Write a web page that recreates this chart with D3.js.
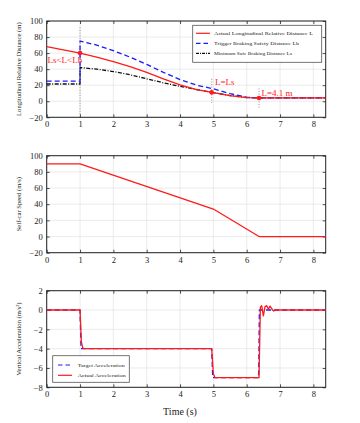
<!DOCTYPE html>
<html><head><meta charset="utf-8">
<script src="https://cdn.jsdelivr.net/npm/d3@7"></script>
<style>body{margin:0;background:#fff}svg{display:block}</style>
</head><body>
<svg id="c" width="360" height="423"></svg>
<script>
// ---------- data ----------
const xTicks = [0,1,2,3,4,5,6,7,8];
const distTicks = [-20,0,20,40,60,80,100];
const speedTicks = [-20,0,20,40,60,80,100];
const accTicks = [-8,-6,-4,-2,0,2];

const actualT = [0,1,1.5,2,2.5,3,3.5,4,4.5,4.95,5.5,6,6.37,8.37];
const actualL = [68,60,55,49.5,43,36,28,20.5,14.5,11,7,4.6,4.1,4.1];
const triggerT = [0,1,1,1.5,2,2.5,3,3.5,4,4.5,5,5.5,6,6.37,8.37];
const triggerL = [25,25,75,70,63,55,46,36,27,20,15.5,9.5,5,4.1,4.1];
const minT = [0,1,1,1.5,2,2.5,3,3.5,4,4.5,5,5.5,6,6.37,8.37];
const minL = [21.5,21.5,42,40,37,33,28,23,18.5,14.5,10.8,7,4.6,4.1,4.1];
const keyT = [1,4.95,6.37];
const keyL = [60,11,4.1];
const keyLabels = ["Ls<L<Lb","L=Ls","L=4.1 m"];
const guideTop = [92,28,16];
const guideBottom = [-20,-2,-10];

const speedT = [0,1,5,6.37,8.37];
const speedV = [90,90,34,0,0];

const targetT = [0,1,1.03,4.95,4.98,6.36,6.38,8.37];
const targetA = [0,0,-4,-4,-7,-7,0,0];
const accT = [0,1,1.04,1.08,1.12,4.95,5.0,5.05,6.37,6.41,6.45,6.5,6.55,6.6,6.65,6.7,6.75,6.8,6.9,7,8.37];
const accA = [0,0,-3.3,-3.9,-4,-4,-6.6,-7,-7,0.3,0.45,-0.6,0.35,0.45,0.1,0.4,0.15,-0.1,0,0,0];

const legend1 = ["Actual Longitudinal Relative Distance L","Trigger Braking Safety Distance Lb","Minimum Safe Braking Distance Ls"];
const legend3 = ["Target Acceleration","Actual Acceleration"];

// ---------- layout ----------
const svg = d3.select("#c");
const L = 46.7, R = 325.7;
const x = d3.scaleLinear().domain([0,8.37]).range([L,R]);
const serif = "'Liberation Serif','Times New Roman',serif";
const RED = "#ff1a1a", BLUE = "#1a1aff";

function panel(top,bottom,dom,ticks,ylabel){
  const y = d3.scaleLinear().domain(dom).range([bottom,top]);
  const g = svg.append("g");
  // grid
  g.append("g").selectAll("line").data(xTicks).join("line")
    .attr("x1",d=>x(d)).attr("x2",d=>x(d)).attr("y1",top).attr("y2",bottom)
    .attr("stroke","#e3e3e3").attr("stroke-width",0.7);
  g.append("g").selectAll("line").data(ticks).join("line")
    .attr("x1",L).attr("x2",R).attr("y1",d=>y(d)).attr("y2",d=>y(d))
    .attr("stroke","#e3e3e3").attr("stroke-width",0.7);
  // axes
  const ax = [
    {a:d3.axisBottom(x).tickValues(xTicks).tickSize(-3).tickPadding(4), t:`translate(0,${bottom})`, lab:true},
    {a:d3.axisTop(x).tickValues(xTicks).tickSize(-3), t:`translate(0,${top})`, lab:false},
    {a:d3.axisLeft(y).tickValues(ticks).tickSize(-3).tickPadding(4), t:`translate(${L},0)`, lab:true},
    {a:d3.axisRight(y).tickValues(ticks).tickSize(-3), t:`translate(${R},0)`, lab:false}
  ];
  ax.forEach(o=>{
    const ag = g.append("g").attr("transform",o.t).call(o.a);
    ag.select(".domain").remove();
    ag.selectAll("line").attr("stroke","#222").attr("stroke-width",0.8);
    ag.selectAll("text").attr("font-family",serif).attr("font-size",8.5).attr("fill","#222");
    if(!o.lab) ag.selectAll("text").remove();
  });
  g.append("rect").attr("x",L).attr("y",top).attr("width",R-L).attr("height",bottom-top)
    .attr("fill","none").attr("stroke","#222").attr("stroke-width",1);
  g.append("text").attr("transform",`translate(21,${(top+bottom)/2}) rotate(-90)`)
    .attr("text-anchor","middle").attr("font-family",serif).attr("font-size",6.6).attr("fill","#222")
    .text(ylabel);
  return y;
}

function series(y,T,V,color,dash,w){
  const line = d3.line().x((d,i)=>x(T[i])).y(d=>y(d));
  svg.append("path").attr("d",line(V)).attr("fill","none").attr("stroke",color)
    .attr("stroke-width",w).attr("stroke-dasharray",dash||null).attr("stroke-linejoin","round");
}

// Panel 1
const y1 = panel(21,117.3,[-20,100],distTicks,"Longitudinal Relative Distance (m)");
svg.append("g").selectAll("line").data(keyT).join("line")
  .attr("x1",d=>x(d)).attr("x2",d=>x(d))
  .attr("y1",(d,i)=>y1(guideTop[i])).attr("y2",(d,i)=>y1(guideBottom[i]))
  .attr("stroke","#777").attr("stroke-width",0.8).attr("stroke-dasharray","1,1.6");
series(y1,minT,minL,"#111","4,1.5,1,1.5",1.3);
series(y1,triggerT,triggerL,BLUE,"5,3",1.3);
series(y1,actualT,actualL,RED,null,1.3);
svg.append("g").selectAll("circle").data(keyT).join("circle")
  .attr("cx",d=>x(d)).attr("cy",(d,i)=>y1(keyL[i])).attr("r",2.3).attr("fill",RED);
const annX = [47.5,215,261.5], annY = [62.5,85.3,96.3];
svg.append("g").selectAll("text").data(keyLabels).join("text")
  .attr("x",(d,i)=>annX[i]).attr("y",(d,i)=>annY[i]).attr("font-family",serif)
  .attr("font-size",9).attr("fill",RED).text(d=>d);
// legend 1
svg.append("rect").attr("x",192.7).attr("y",25.3).attr("width",129).attr("height",37)
  .attr("fill","#fff").attr("stroke","#555").attr("stroke-width",0.8);
const l1c = [RED,BLUE,"#111"], l1d = [null,"4.5,3","3,1,1,1"];
legend1.forEach((t,i)=>{
  const yy = 33.3+i*10;
  svg.append("line").attr("x1",196).attr("x2",210).attr("y1",yy).attr("y2",yy)
    .attr("stroke",l1c[i]).attr("stroke-width",1.2).attr("stroke-dasharray",l1d[i]);
  const w = [99,85,78][i];
  svg.append("text").attr("x",214).attr("y",yy+1.7).attr("font-family",serif).attr("font-size",5)
    .attr("textLength",w).attr("lengthAdjust","spacingAndGlyphs").attr("fill","#222").text(t);
});

// Panel 2
const y2 = panel(155.7,252.7,[-20,100],speedTicks,"Self-car Speed (m/s)");
series(y2,speedT,speedV,RED,null,1.3);

// Panel 3
const y3 = panel(290.7,387.3,[-8,2],accTicks,"Vertical Acceleration (m/s\u00B2)");
series(y3,targetT,targetA,BLUE,"5,3",1.3);
series(y3,accT,accA,RED,null,1.3);
svg.append("rect").attr("x",52.7).attr("y",355.7).attr("width",76.6).attr("height",26.6)
  .attr("fill","#fff").attr("stroke","#555").attr("stroke-width",0.8);
const l3c = [BLUE,RED], l3d = ["4.5,3",null];
legend3.forEach((t,i)=>{
  const yy = 365+i*10.3;
  svg.append("line").attr("x1",58).attr("x2",72).attr("y1",yy).attr("y2",yy)
    .attr("stroke",l3c[i]).attr("stroke-width",1.2).attr("stroke-dasharray",l3d[i]);
  svg.append("text").attr("x",77.7).attr("y",yy+1.7).attr("font-family",serif).attr("font-size",5)
    .attr("textLength",[47,48][i]).attr("lengthAdjust","spacingAndGlyphs").attr("fill","#222").text(t);
});
svg.append("text").attr("x",180).attr("y",415).attr("text-anchor","middle")
  .attr("font-family",serif).attr("font-size",10).attr("fill","#222").text("Time (s)");
</script>
</body></html>
